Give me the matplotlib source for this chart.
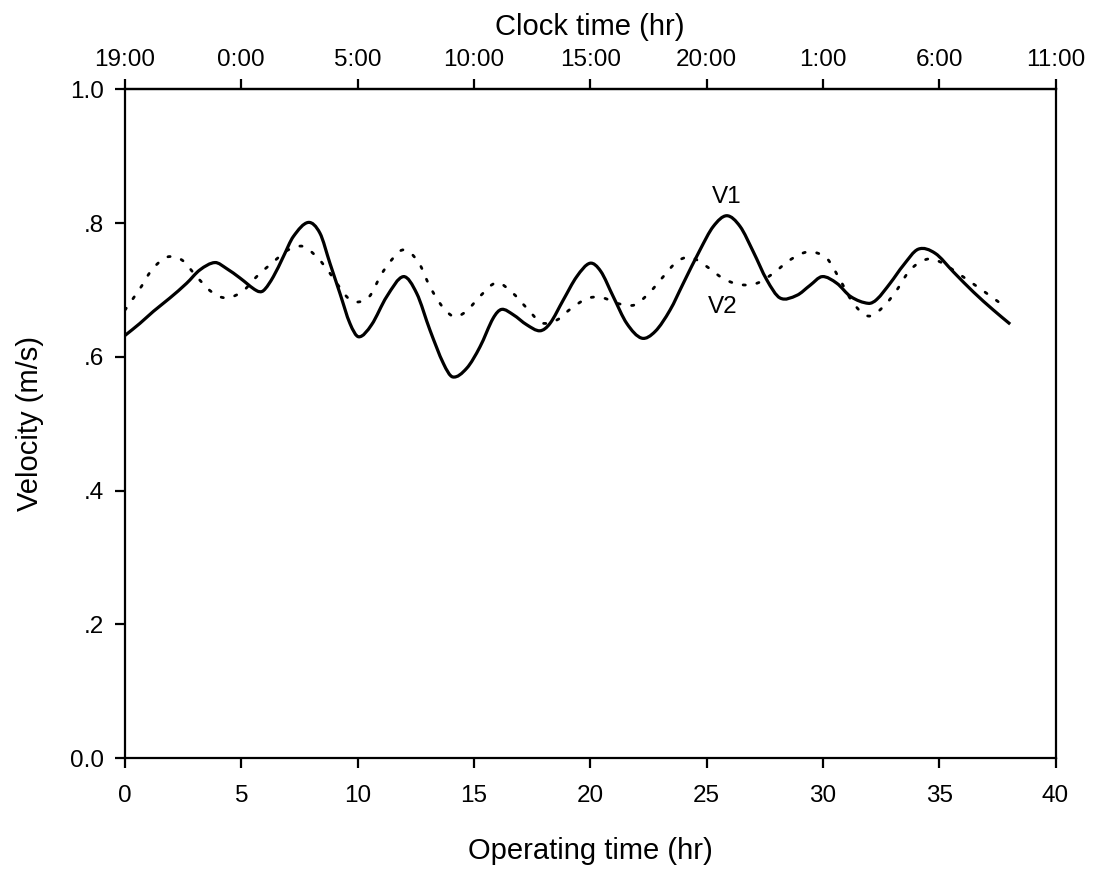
import matplotlib
matplotlib.use("Agg")
import matplotlib.pyplot as plt
from matplotlib.path import Path
from matplotlib.patches import PathPatch

plt.rcParams["font.family"] = ["Liberation Sans", "DejaVu Sans"]

# Operating time (hr) and velocity (m/s) for the two velocity series
v1_time = [0.0, 0.64, 1.22, 1.93, 2.65, 3.22, 3.87, 4.37, 4.94, 5.66, 5.95, 6.38,
           6.81, 7.24, 7.88, 8.38, 8.81, 9.24, 9.67, 10.05, 10.6, 11.25, 11.97,
           12.54, 13.11, 13.69, 14.09, 14.69, 15.26, 15.83, 16.19, 16.69, 17.27,
           17.84, 18.27, 18.84, 19.42, 19.99, 20.45, 20.99, 21.57, 22.21, 22.79,
           23.43, 24.0, 24.72, 25.29, 25.87, 26.44, 27.01, 27.59, 28.16, 28.88,
           29.45, 29.97, 30.6, 31.2, 31.96, 32.32, 32.89, 33.46, 34.1, 34.82,
           35.61, 36.47, 37.33, 38.05]
v1_vel = [0.632, 0.650, 0.668, 0.688, 0.710, 0.730, 0.741, 0.732, 0.718, 0.699,
          0.699, 0.720, 0.750, 0.780, 0.801, 0.785, 0.740, 0.695, 0.650, 0.630,
          0.648, 0.690, 0.720, 0.695, 0.640, 0.590, 0.570, 0.583, 0.615, 0.658,
          0.671, 0.663, 0.648, 0.639, 0.650, 0.685, 0.720, 0.740, 0.728, 0.690,
          0.650, 0.628, 0.638, 0.670, 0.710, 0.760, 0.795, 0.811, 0.795, 0.757,
          0.715, 0.688, 0.692, 0.707, 0.720, 0.710, 0.690, 0.680, 0.686, 0.710,
          0.737, 0.761, 0.755, 0.727, 0.697, 0.670, 0.649]

v2_time = [0.0, 0.72, 1.15, 1.79, 2.44, 3.08, 3.73, 4.37, 5.09, 5.66, 6.38, 7.02,
           7.67, 8.31, 8.81, 9.53, 9.95, 10.5, 11.0, 11.39, 11.97, 12.61, 13.11,
           13.69, 14.19, 14.69, 15.33, 15.98, 16.62, 17.27, 17.91, 18.56, 19.2,
           19.92, 20.56, 21.28, 21.93, 22.57, 23.14, 23.72, 24.29, 25.01, 25.72,
           26.44, 27.16, 27.87, 28.59, 29.38, 30.17, 30.74, 31.31, 31.96, 32.6,
           33.18, 33.75, 34.47, 35.04, 35.76, 36.47, 37.12, 37.83]
v2_vel = [0.670, 0.706, 0.730, 0.749, 0.745, 0.720, 0.697, 0.688, 0.699, 0.720,
          0.742, 0.760, 0.765, 0.747, 0.725, 0.690, 0.682, 0.690, 0.722, 0.742,
          0.760, 0.742, 0.705, 0.673, 0.660, 0.669, 0.693, 0.711, 0.697, 0.673,
          0.651, 0.655, 0.673, 0.688, 0.688, 0.679, 0.678, 0.697, 0.720, 0.742,
          0.749, 0.735, 0.717, 0.708, 0.710, 0.725, 0.745, 0.757, 0.747, 0.715,
          0.680, 0.661, 0.675, 0.700, 0.730, 0.746, 0.742, 0.726, 0.709, 0.693,
          0.675]

op_ticks = [0, 5, 10, 15, 20, 25, 30, 35, 40]
clock_labels = ["19:00", "0:00", "5:00", "10:00", "15:00", "20:00", "1:00",
                "6:00", "11:00"]
y_ticks = [0.0, 0.2, 0.4, 0.6, 0.8, 1.0]
y_labels = ["0.0", ".2", ".4", ".6", ".8", "1.0"]


def smooth_path(xs, ys):
    """Cubic Bezier path passing through every (x, y), tangents from neighbours."""
    n = len(xs)
    slopes = []
    for i in range(n):
        a = max(i - 1, 0)
        b = min(i + 1, n - 1)
        slopes.append((ys[b] - ys[a]) / (xs[b] - xs[a]))
    verts = [(xs[0], ys[0])]
    codes = [Path.MOVETO]
    for i in range(n - 1):
        h = xs[i + 1] - xs[i]
        verts += [(xs[i] + h / 3, ys[i] + slopes[i] * h / 3),
                  (xs[i + 1] - h / 3, ys[i + 1] - slopes[i + 1] * h / 3),
                  (xs[i + 1], ys[i + 1])]
        codes += [Path.CURVE4] * 3
    return Path(verts, codes)


fig = plt.figure(figsize=(11.01, 8.71), dpi=100)
ax = fig.add_axes([0.1135, 0.1294, 0.8452, 0.7681])

ax.add_patch(PathPatch(smooth_path(v1_time, v1_vel), fill=False,
                       edgecolor="black", lw=2.3, joinstyle="round"))
ax.add_patch(PathPatch(smooth_path(v2_time, v2_vel), fill=False,
                       edgecolor="black", lw=2.0, linestyle=(0, (0.8, 4.2)),
                       capstyle="round"))

ax.text(25.87, 0.839, "V1", fontsize=17.5, ha="center", va="center")
ax.text(25.7, 0.675, "V2", fontsize=17.5, ha="center", va="center")

ax.set_xlim(0, 40)
ax.set_ylim(0, 1.0)
ax.set_xticks(op_ticks)
ax.set_xticklabels([str(t) for t in op_ticks])
ax.set_yticks(y_ticks)
ax.set_yticklabels(y_labels)

for s in ax.spines.values():
    s.set_linewidth(1.6)
ax.tick_params(axis="both", direction="out", length=7, width=1.6,
               labelsize=17.5)
ax.tick_params(axis="x", pad=12)
ax.tick_params(axis="y", pad=8)

ax.set_xlabel("Operating time (hr)", fontsize=21, labelpad=22)
ax.set_ylabel("Velocity (m/s)", fontsize=21, labelpad=19)

top = ax.secondary_xaxis("top")
top.set_xticks(op_ticks)
top.set_xticklabels(clock_labels)
top.tick_params(direction="out", length=7, width=1.6, labelsize=17.5, pad=6)
top.spines["top"].set_linewidth(1.6)
top.set_xlabel("Clock time (hr)", fontsize=21, labelpad=10)

fig.savefig("out.png", dpi=100, facecolor="white")
